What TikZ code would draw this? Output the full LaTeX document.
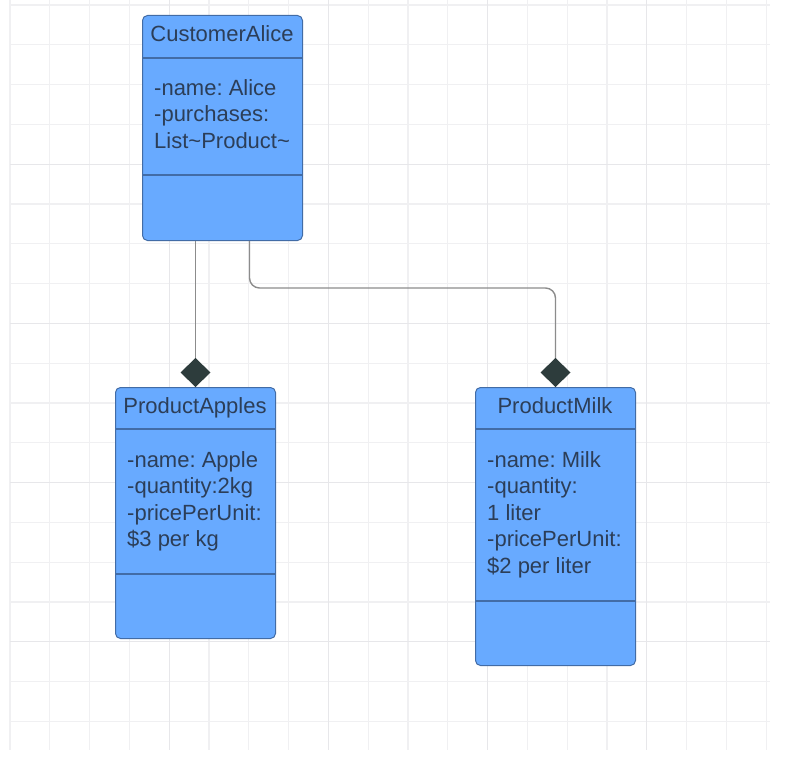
\documentclass[tikz,border=0pt]{standalone}
\usepackage{fontspec}
\setmainfont{Liberation Sans}
\usetikzlibrary{arrows.meta}
\frenchspacing
\definecolor{boxfill}{RGB}{104,170,255}
\definecolor{boxline}{RGB}{66,108,166}
\definecolor{txt}{RGB}{44,62,88}
\definecolor{gridc}{RGB}{240,240,242}
\definecolor{gridm}{RGB}{231,231,234}
\definecolor{conn}{RGB}{140,140,140}
\definecolor{dia}{RGB}{45,60,60}
\begin{document}
\begin{tikzpicture}[x=1pt,y=-1pt,
  classbox/.style={draw=boxline, fill=boxfill, line width=1pt, rounded corners=5pt,
    minimum width=160pt, anchor=north west, inner sep=0pt},
  title/.style={text=txt, font=\fontsize{22}{26.5}\selectfont, inner sep=0pt, anchor=base},
  attrs/.style={text=txt, font=\fontsize{22}{26.5}\selectfont, align=left, inner sep=0pt, anchor=north west},
  divider/.style={draw=boxline, line width=1.3pt},
  gridline/.style={draw=gridc, line width=1.1pt},
  gridmajor/.style={draw=gridm, line width=1.2pt},
  compose/.style={draw=conn, line width=1.4pt, -{Diamond[length=29pt,width=30pt,fill=dia,color=dia]}},
]
\useasboundingbox (0,0) rectangle (804,760);
\fill[white] (0,0) rectangle (804,760);
% grid
\foreach \i in {0,...,19} {
  \pgfmathsetmacro\xx{10+\i*39.8}
  \draw[gridline] (\xx,0) -- (\xx,750);
}
\foreach \j in {0,...,18} {
  \pgfmathsetmacro\yy{5+\j*39.8}
  \draw[gridline] (10,\yy) -- (770,\yy);
}
\foreach \i in {4,8,12,16} {
  \pgfmathsetmacro\xx{10+\i*39.8}
  \draw[gridmajor] (\xx,0) -- (\xx,750);
  \pgfmathsetmacro\yy{5+\i*39.8}
  \draw[gridmajor] (10,\yy) -- (770,\yy);
}

% CustomerAlice
\node[classbox, minimum height=225pt] (alice) at (142,15) {};
\draw[divider] (alice.west |- 0,58) -- (alice.east |- 0,58);
\draw[divider] (alice.west |- 0,175) -- (alice.east |- 0,175);
\node[title] (aliceT) at (222,42) {CustomerAlice};
\node[attrs] (aliceA) at (154,79.2) {-name: Alice\\-purchases:\\List\textasciitilde Product\textasciitilde};

% ProductApples
\node[classbox, minimum height=251pt] (apples) at (115,387) {};
\draw[divider] (apples.west |- 0,429) -- (apples.east |- 0,429);
\draw[divider] (apples.west |- 0,574) -- (apples.east |- 0,574);
\node[title] (applesT) at (195,413) {ProductApples};
\node[attrs] (applesA) at (127,451) {-name: Apple\\-quantity:2kg\\-pricePerUnit:\\\$3 per kg};

% ProductMilk
\node[classbox, minimum height=278pt] (milk) at (475,387) {};
\draw[divider] (milk.west |- 0,429) -- (milk.east |- 0,429);
\draw[divider] (milk.west |- 0,601) -- (milk.east |- 0,601);
\node[title] (milkT) at (555,413) {ProductMilk};
\node[attrs] (milkA) at (487,451) {-name: Milk\\-quantity:\\1 liter\\-pricePerUnit:\\\$2 per liter};

% connectors (composition)
\draw[compose] (apples.north |- alice.south) -- (apples.north);
\draw[compose, rounded corners=10pt] ([xshift=27pt]alice.south) -- ++(0,47) -| (milk.north);
\end{tikzpicture}
\end{document}
